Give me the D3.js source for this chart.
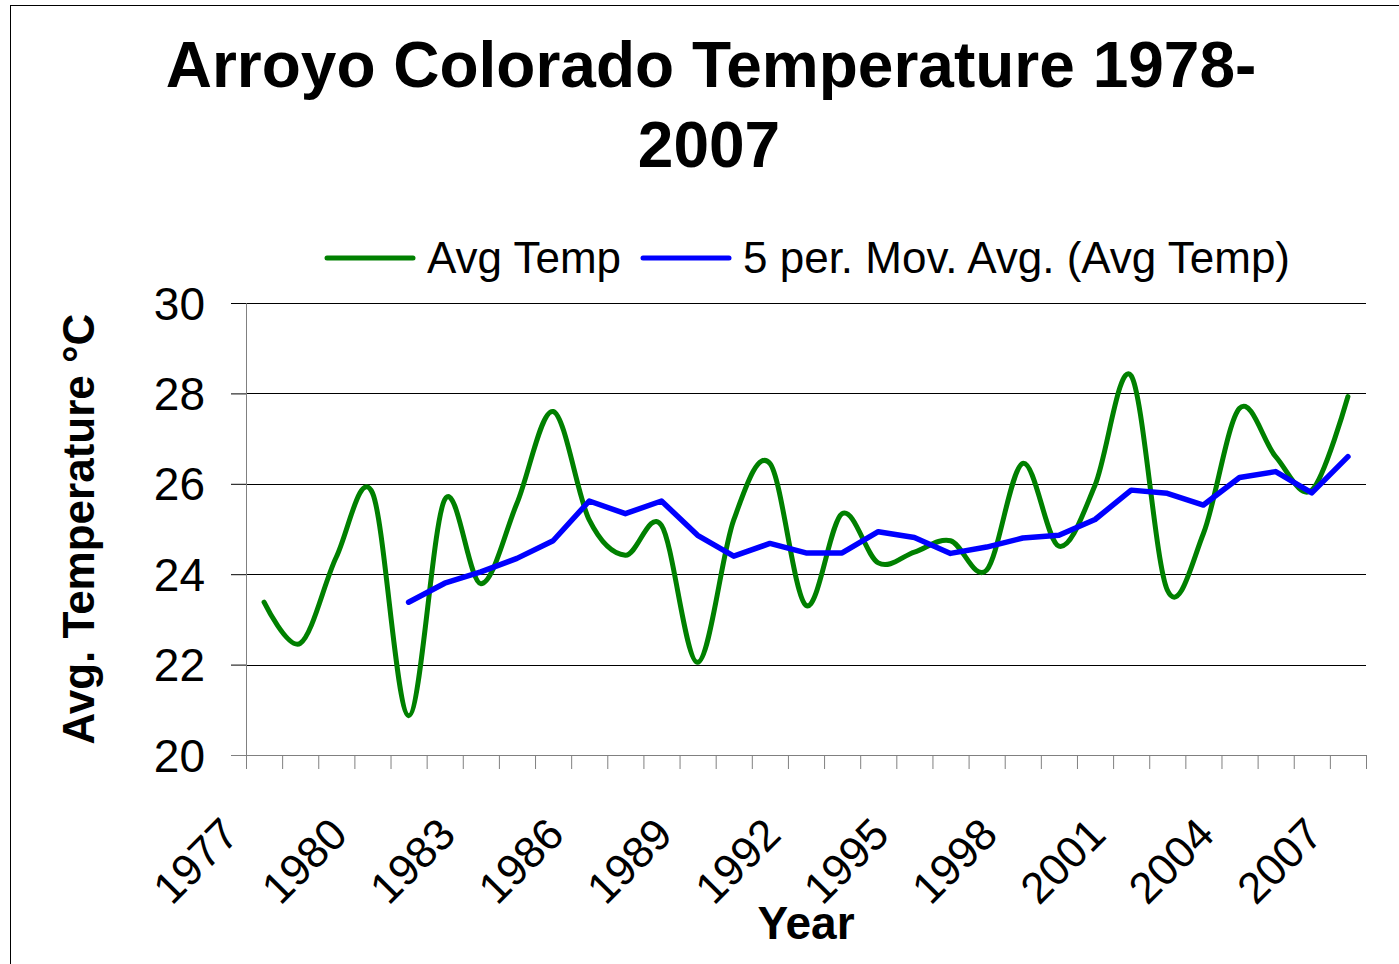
<!DOCTYPE html>
<style>
body {
	margin: 0;
	background: #fff;
}
svg {
	display: block;
	font-family: "Liberation Sans", Arial, sans-serif;
}
</style>
<svg width="1399" height="964"></svg>
<script src="https://d3js.org/d3.v7.min.js"></script>
<script>
// categories (one per year) and labels shown every 3 years
const years = d3.range(1977, 2008);
const labelYears = [1977, 1980, 1983, 1986, 1989, 1992, 1995, 1998, 2001, 2004, 2007];
const yTicks = [20, 22, 24, 26, 28, 30];

// Avg Temp (1977..2007)
const avgTemp = [23.38, 22.47, 24.38, 25.8, 20.87, 25.65, 23.79, 25.57, 27.6, 25.2,
                 24.42, 25.08, 22.05, 25.2, 26.45, 23.31, 25.34, 24.25, 24.49, 24.74,
                 24.09, 26.45, 24.62, 25.97, 28.39, 23.65, 24.9, 27.67, 26.6, 25.86, 27.93];

// 5 per. moving average (starts at 1981)
const movYears = d3.range(1981, 2008);
const movAvg = [23.38, 23.8, 24.05, 24.35, 24.74, 25.62, 25.34, 25.62, 24.86, 24.4,
                24.68, 24.47, 24.47, 24.94, 24.81, 24.46, 24.6, 24.8, 24.86, 25.21,
                25.86, 25.79, 25.53, 26.14, 26.27, 25.8, 26.6];

const svg = d3.select("svg"),
      margin = {top: 303, right: 33, bottom: 209, left: 246},
      width = +svg.attr("width") - margin.left - margin.right,
      height = +svg.attr("height") - margin.top - margin.bottom,
      g = svg.append("g").attr("transform", "translate(" + margin.left + "," + margin.top + ")");

// chart frame (clipped by the page on right and bottom)
svg.append("rect")
	.attr("x", 10.5).attr("y", 5.5)
	.attr("width", 1420).attr("height", 1000)
	.attr("fill", "none")
	.attr("stroke", "#000");

const xScale = d3.scaleBand().domain(years).range([0, width]),
      xEdge = d3.scaleLinear().domain([0, years.length]).range([0, width]),
      yScale = d3.scaleLinear().domain([20, 30]).range([height, 0]),
      xc = (d) => xScale(d) + xScale.bandwidth() / 2;

// gridlines
g.append("g")
	.selectAll("line")
	.data(yTicks.filter((d) => d > 20))
	.enter()
	.append("line")
	.attr("x1", 0).attr("x2", width)
	.attr("y1", (d) => Math.round(yScale(d)) + 0.5)
	.attr("y2", (d) => Math.round(yScale(d)) + 0.5)
	.attr("stroke", "#000");

// y axis
const yAxis = g.append("g")
	.call(d3.axisLeft(yScale).tickValues(yTicks).tickSize(15).tickPadding(26).tickFormat(d3.format("d")));
yAxis.select(".domain").attr("stroke", "#808080");
yAxis.selectAll(".tick line").attr("stroke", (d) => d === 20 ? "#808080" : "#000");
yAxis.selectAll("text")
	.attr("fill", "#000")
	.style("font-size", "46px")
	.attr("dy", "0.35em");

// x axis: ticks between categories
const xAxis = g.append("g")
	.attr("transform", `translate(0, ${height})`)
	.call(d3.axisBottom(xEdge).tickValues(d3.range(years.length + 1)).tickSize(14).tickSizeOuter(0).tickFormat(""));
xAxis.select(".domain").attr("stroke", "#808080");
xAxis.selectAll(".tick line").attr("stroke", "#808080");

g.append("g")
	.selectAll("text")
	.data(labelYears)
	.enter()
	.append("text")
	.attr("transform", (d) => `translate(${xc(d) - 23}, ${height + 82}) rotate(-45)`)
	.style("text-anchor", "end")
	.style("font-size", "44px")
	.text((d) => d);

// series
const line = d3.line()
	.x((d) => xc(d[0]))
	.y((d) => yScale(d[1]));

g.append("path")
	.datum(years.map((y, i) => [y, avgTemp[i]]))
	.attr("fill", "none")
	.attr("stroke", "#008000")
	.attr("stroke-width", 5)
	.attr("stroke-linejoin", "round")
	.attr("stroke-linecap", "round")
	.attr("d", line.curve(d3.curveCardinal.tension(0)));

g.append("path")
	.datum(movYears.map((y, i) => [y, movAvg[i]]))
	.attr("fill", "none")
	.attr("stroke", "#0000ff")
	.attr("stroke-width", 5.5)
	.attr("stroke-linejoin", "round")
	.attr("stroke-linecap", "round")
	.attr("d", line.curve(d3.curveLinear));

// titles
svg.append("text")
	.attr("x", 711).attr("y", 87)
	.style("text-anchor", "middle")
	.style("font-size", "64px")
	.style("font-weight", "bold")
	.text("Arroyo Colorado Temperature 1978-");
svg.append("text")
	.attr("x", 709).attr("y", 167)
	.style("text-anchor", "middle")
	.style("font-size", "64px")
	.style("font-weight", "bold")
	.text("2007");

svg.append("text")
	.attr("transform", "translate(94, 529) rotate(-90)")
	.style("text-anchor", "middle")
	.style("font-size", "44px")
	.style("font-weight", "bold")
	.text("Avg. Temperature °C");

svg.append("text")
	.attr("x", margin.left + width / 2).attr("y", 939)
	.style("text-anchor", "middle")
	.style("font-size", "46px")
	.style("font-weight", "bold")
	.text("Year");

// legend
const legend = [
	{name: "Avg Temp", color: "#008000", x: 325},
	{name: "5 per. Mov. Avg. (Avg Temp)", color: "#0000ff", x: 641},
];
const lg = svg.append("g").selectAll("g").data(legend).enter().append("g")
	.attr("transform", (d) => `translate(${d.x}, 258)`);
lg.append("line")
	.attr("x1", 2).attr("x2", 88)
	.attr("stroke", (d) => d.color)
	.attr("stroke-width", 5)
	.attr("stroke-linecap", "round");
lg.append("text")
	.attr("x", 102).attr("y", 15)
	.style("font-size", "44px")
	.text((d) => d.name);
</script>
